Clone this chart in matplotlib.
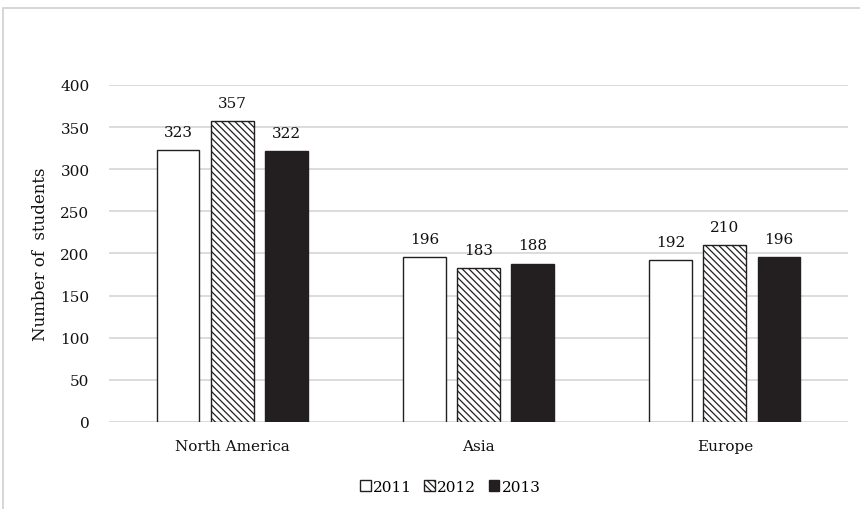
import matplotlib.pyplot as plt
import numpy as np
from matplotlib.patches import Rectangle

regions = ["North America", "Asia", "Europe"]
years = ["2011", "2012", "2013"]
v2011 = [323, 196, 192]
v2012 = [357, 183, 210]
v2013 = [322, 188, 196]

plt.rcParams['font.family'] = ['DejaVu Serif']
plt.rcParams['hatch.linewidth'] = 0.9
plt.rcParams['hatch.color'] = '#231f20'

fig = plt.figure(figsize=(8.6, 5.1), dpi=100)
ax = fig.add_axes([0.1267, 0.1706, 0.8593, 0.6608])

# outer chart frame
fig.patches.append(Rectangle((3 / 860, -0.1), 1.2, 1 - 9 / 510 + 0.1, transform=fig.transFigure,
                             fill=False, edgecolor="#d0d0d0", linewidth=1.2))

x = np.arange(len(regions))
w = 0.174
step = 0.22
styles = [dict(color="white", hatch=None), dict(color="white", hatch="\\" * 5),
          dict(color="#231f20", hatch=None)]
handles = []
for i, (vals, st) in enumerate(zip([v2011, v2012, v2013], styles)):
    bars = ax.bar(x + (i - 1) * step, vals, w, facecolor=st["color"], edgecolor="#231f20",
                  linewidth=1.0, hatch=st["hatch"], label=years[i], zorder=3)
    handles.append(bars)
    for b, v in zip(bars, vals):
        ax.annotate(str(v), (b.get_x() + b.get_width() / 2, v), xytext=(0, 8),
                    textcoords="offset points", ha="center", va="bottom", fontsize=11,
                    color="#111111")

ax.set_xlim(-0.5, 2.5)
ax.set_ylim(0, 400)
ax.set_yticks(range(0, 401, 50))
ax.set_xticks(x)
ax.set_xticklabels(regions)
ax.tick_params(length=0, labelsize=11, labelcolor="#111111")
ax.tick_params(axis="y", pad=14)
ax.tick_params(axis="x", pad=12)
ax.grid(axis="y", color="#d9d9d9", linewidth=1.3, zorder=0)
for s in ax.spines.values():
    s.set_visible(False)
ax.set_ylabel("Number of  students", fontsize=12, labelpad=8, color="#111111")

ax.legend(handles=handles, loc="upper center", bbox_to_anchor=(0.462, -0.13), ncol=3,
          frameon=False, fontsize=11, handlelength=0.7, handleheight=0.7,
          handletextpad=0.15, columnspacing=0.8)

fig.savefig("out.png", dpi=100)
